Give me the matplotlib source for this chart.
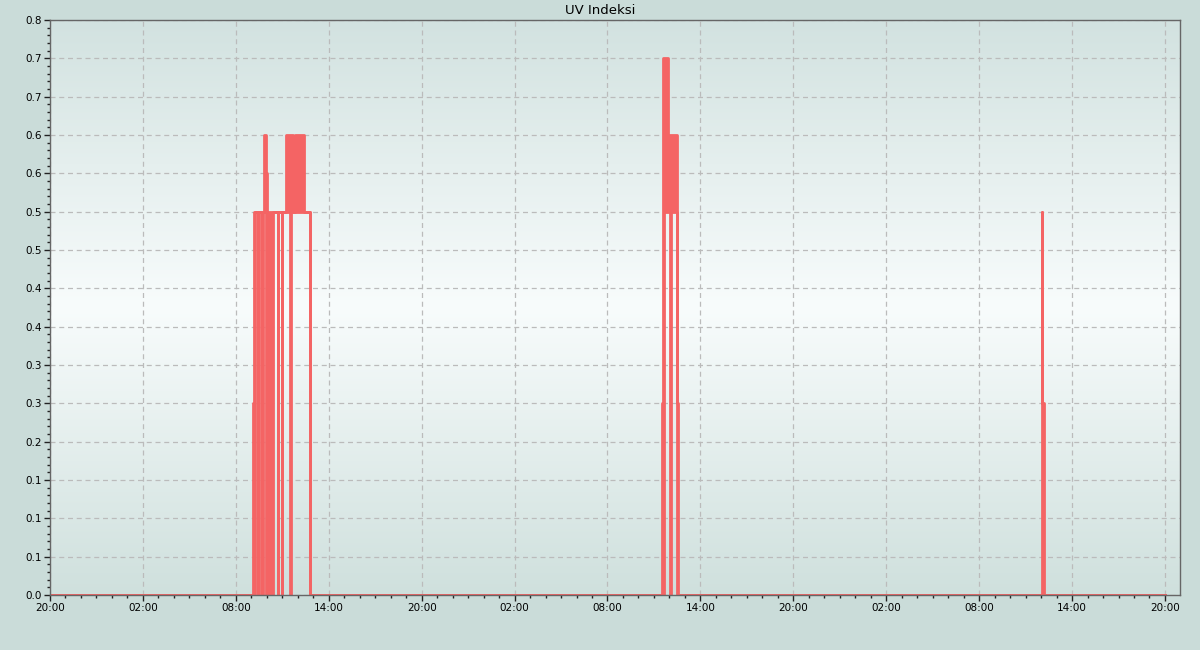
import matplotlib
matplotlib.use("Agg")

import numpy as np
import matplotlib.pyplot as plt
from matplotlib.colors import LinearSegmentedColormap
from matplotlib.ticker import FixedLocator, MultipleLocator

# hours since the first 20:00, with the min / max UV reading in each step
t_hours = [0, 13.108, 13.15, 13.26, 13.40, 13.41, 13.656, 13.785, 13.85, 13.92,
           13.98, 14.00, 14.37, 14.74, 14.75, 14.96, 14.97, 15.26, 15.48, 15.56,
           15.67, 15.82, 16.38, 16.81,
           39.52, 39.58, 39.63, 39.89, 40.02, 40.10, 40.49, 40.54,
           64.06, 64.07, 64.17, 72.0]
uv_low = [0, 0, 0, 0.5, 0, 0.5, 0, 0.5, 0.5, 0.5,
          0, 0, 0.5, 0, 0.5, 0, 0.5, 0.5, 0, 0.5,
          0.5, 0.5, 0.5, 0,
          0, 0, 0.5, 0.5, 0, 0.5, 0, 0,
          0, 0, 0, 0]
uv_high = [0, 0.25, 0.5, 0.5, 0.5, 0.5, 0.5, 0.5, 0.6, 0.55,
           0.55, 0.5, 0.5, 0.5, 0.5, 0.5, 0.5, 0.6, 0.6, 0.6,
           0.5, 0.6, 0.5, 0,
           0.25, 0.7, 0.7, 0.6, 0.6, 0.6, 0.25, 0,
           0.5, 0.25, 0, 0]

x_tick_labels = ["20:00", "02:00", "08:00", "14:00"] * 3 + ["20:00"]
y_tick_values = [0, 0.05, 0.1, 0.15, 0.2, 0.25, 0.3, 0.35, 0.4, 0.45,
                 0.5, 0.55, 0.6, 0.65, 0.7, 0.75]
y_tick_labels = ["0.0", "0.1", "0.1", "0.1", "0.2", "0.3", "0.3", "0.4", "0.4", "0.5",
                 "0.5", "0.6", "0.6", "0.7", "0.7", "0.8"]

red = "#f46464"

fig = plt.figure(figsize=(12, 6.5), dpi=100, facecolor="#cadcd9")
ax = fig.add_axes([50 / 1200, 1 - 595 / 650, 1130 / 1200, 575 / 650])

# vertical gradient background
cmap = LinearSegmentedColormap.from_list(
    "bg", ["#cfe0dd", "#f8fcfc", "#d2e2e0"])
grad = np.linspace(0, 1, 256).reshape(-1, 1)
ax.imshow(grad, cmap=cmap, aspect="auto", origin="lower",
          extent=[0, 1, 0, 1], transform=ax.transAxes, zorder=0)

ax.fill_between(t_hours, uv_low, uv_high, step="post", color=red, lw=0, zorder=3)
ax.step(t_hours, uv_high, where="post", color=red, lw=2, zorder=3)
ax.step(t_hours, uv_low, where="post", color=red, lw=2, zorder=3)

ax.set_xlim(0, 72.97)
ax.set_ylim(0, 0.75)

ax.xaxis.set_major_locator(FixedLocator(np.arange(0, 73, 6)))
ax.set_xticklabels(x_tick_labels)
ax.xaxis.set_minor_locator(MultipleLocator(1))
ax.yaxis.set_major_locator(FixedLocator(y_tick_values))
ax.set_yticklabels(y_tick_labels)
ax.yaxis.set_minor_locator(MultipleLocator(0.01))

ax.tick_params(which="major", length=4, width=1, color="#222222",
               labelsize=7.5, pad=2)
ax.tick_params(which="minor", length=2.5, width=1, color="#222222")

ax.grid(True, which="major", color="#bbbbbb", linestyle=(0, (4, 3)), lw=0.9, zorder=1)
ax.set_axisbelow(True)
for s in ax.spines.values():
    s.set_color("#666666")
    s.set_linewidth(1)
    s.set_zorder(4)

fig.text(0.5, 1 - 10 / 650, "UV Indeksi", fontsize=9.5, ha="center", va="center")

fig.savefig("out.png", dpi=100, facecolor=fig.get_facecolor())
